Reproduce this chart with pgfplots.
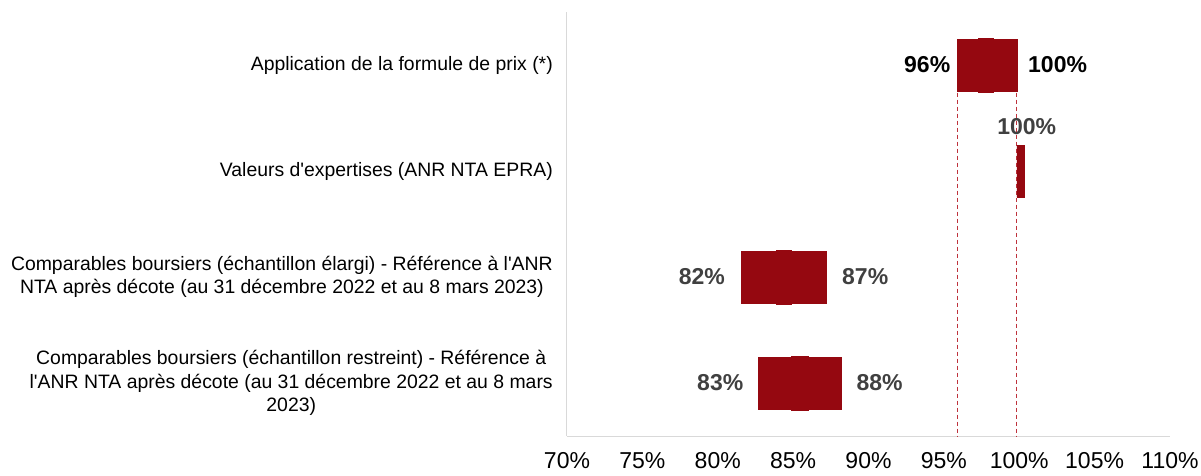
\documentclass[border=0pt]{standalone}
\usepackage{fontspec}
\setmainfont{Liberation Sans}
\newfontfamily\nolig{Liberation Sans}
\usepackage{pgfplots}
\pgfplotsset{compat=1.18}
\definecolor{barred}{RGB}{149,8,16}
\definecolor{dashred}{RGB}{190,50,60}
\definecolor{lblgray}{RGB}{64,64,64}
\definecolor{axgray}{RGB}{217,217,217}
\newcommand\catfont{\nolig\fontsize{19.4}{23.6}\selectfont}
\newcommand\tickfont{\fontsize{23}{26}\selectfont}
\newcommand\valfont{\bfseries\fontsize{23}{26}\selectfont}
\tikzset{vlab/.style={font=\valfont, inner sep=0pt}}
\begin{document}
\begin{tikzpicture}
\path[use as bounding box] (-567pt,-39pt) rectangle (634pt,436pt);
\begin{axis}[
  at={(0pt,0pt)}, anchor=south west,
  width=603pt, height=424pt, scale only axis,
  xmin=70, xmax=110, ymin=-0.5, ymax=3.5,
  xbar stacked, bar width=52pt,
  axis x line*=bottom, axis y line*=left,
  axis line style={draw=axgray, line width=1pt, -},
  major tick length=0pt,
  xtick={70,75,...,110},
  xticklabels={70\%,75\%,80\%,85\%,90\%,95\%,100\%,105\%,110\%},
  xticklabel style={font=\tickfont, inner sep=0pt, anchor=north, yshift=-16pt},
  ytick={0,1,2,3},
  yticklabels={
    {Comparables boursiers (échantillon restreint) - Référence à\\l'ANR NTA après décote (au 31 décembre 2022 et au 8 mars\\2023)},
    {Comparables boursiers (échantillon élargi) - Référence à l'ANR\\NTA après décote (au 31 décembre 2022 et au 8 mars 2023)},
    {Valeurs d'expertises (ANR NTA EPRA)},
    {Application de la formule de prix (*)}},
  yticklabel style={font=\catfont, align=center, anchor=east, inner sep=0pt, xshift=-14pt},
  clip=false,
]
\addplot[fill=white, draw=none, fill opacity=0] coordinates {(82.7,0) (81.55,1) (99.85,2) (95.9,3)};
\addplot[fill=barred, draw=barred, line width=0.4pt] coordinates {(2.2,0) (2.35,1) (0.45,2) (1.4,3)};
\addplot[fill=barred, draw=barred, line width=0.4pt, bar width=54pt] coordinates {(1.1,0) (1.0,1) (0,2) (1.0,3)};
\addplot[fill=barred, draw=barred, line width=0.4pt] coordinates {(2.2,0) (2.28,1) (0,2) (1.55,3)};
\draw[draw=dashred, line width=1pt, dash pattern=on 4pt off 3pt] (axis cs:95.9,2.74) -- (axis cs:95.9,-0.5);
\draw[draw=dashred, line width=1pt, dash pattern=on 4pt off 3pt] (axis cs:99.85,2.74) -- (axis cs:99.85,-0.5);
\node[vlab, anchor=east, text=black] at ([xshift=-7pt]axis cs:95.9,3) {96\%};
\node[vlab, anchor=west, text=black] at ([xshift=11pt]axis cs:99.85,3) {100\%};
\node[vlab, anchor=south, text=lblgray] at ([xshift=6pt,yshift=36pt]axis cs:100.1,2) {100\%};
\node[vlab, anchor=east, text=lblgray] at ([xshift=-16pt]axis cs:81.55,1) {82\%};
\node[vlab, anchor=west, text=lblgray] at ([xshift=16pt]axis cs:87.18,1) {87\%};
\node[vlab, anchor=east, text=lblgray] at ([xshift=-15pt]axis cs:82.7,0) {83\%};
\node[vlab, anchor=west, text=lblgray] at ([xshift=15pt]axis cs:88.2,0) {88\%};
\end{axis}
\end{tikzpicture}
\end{document}
